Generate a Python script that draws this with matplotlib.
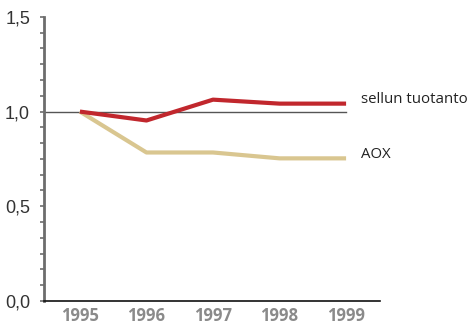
import matplotlib
matplotlib.use("Agg")
import matplotlib.pyplot as plt
from matplotlib.ticker import MultipleLocator

years = [1995, 1996, 1997, 1998, 1999]
sellun_tuotanto = [1.0, 0.953, 1.063, 1.042, 1.042]
aox = [1.0, 0.784, 0.784, 0.753, 0.753]
y_ticks = [0.0, 0.5, 1.0, 1.5]
y_labels = ["0,0", "0,5", "1,0", "1,5"]

red = "#C1272D"
tan = "#D9C690"

fig = plt.figure(figsize=(4.68, 3.25), dpi=100)
ax = fig.add_axes([0.094, 0.074, 0.718, 0.874])

x0, x1 = 1994.46, 1999.51
ax.axhline(1.0, xmin=0, xmax=(1999 - x0) / (x1 - x0),
           color="#555555", lw=1.0, zorder=1)
ax.plot(years, aox, color=tan, lw=3.0, solid_capstyle="butt", zorder=2)
ax.plot(years, sellun_tuotanto, color=red, lw=3.0, solid_capstyle="butt", zorder=3)

ax.set_xlim(x0, x1)
ax.set_ylim(0, 1.5)

for s in ("top", "right"):
    ax.spines[s].set_visible(False)
ax.spines["left"].set_color("#6d6d6d")
ax.spines["left"].set_linewidth(2.0)
ax.spines["bottom"].set_color("#111111")
ax.spines["bottom"].set_linewidth(1.2)

ax.set_yticks(y_ticks)
ax.set_yticklabels(y_labels, fontsize=13, color="#333333", family="Liberation Sans")
ax.yaxis.set_minor_locator(MultipleLocator(1 / 12))
ax.tick_params(axis="y", which="both", length=3, width=1.2, color="#6d6d6d",
               direction="out", pad=7)

ax.set_xticks(years)
ax.set_xticklabels([str(y) for y in years], fontsize=12, color="#8a8a8a",
                   fontweight="bold", family="Open Sans")
ax.tick_params(axis="x", length=0, pad=4)

ax.text(1999.22, sellun_tuotanto[-1] + 0.02, "sellun tuotanto", fontsize=10.8,
        color="#222222", va="center", ha="left", family="Open Sans", clip_on=False)
ax.text(1999.22, aox[-1] + 0.02, "AOX", fontsize=10.8,
        color="#222222", va="center", ha="left", family="Open Sans", clip_on=False)

fig.savefig("out.png", dpi=100)
